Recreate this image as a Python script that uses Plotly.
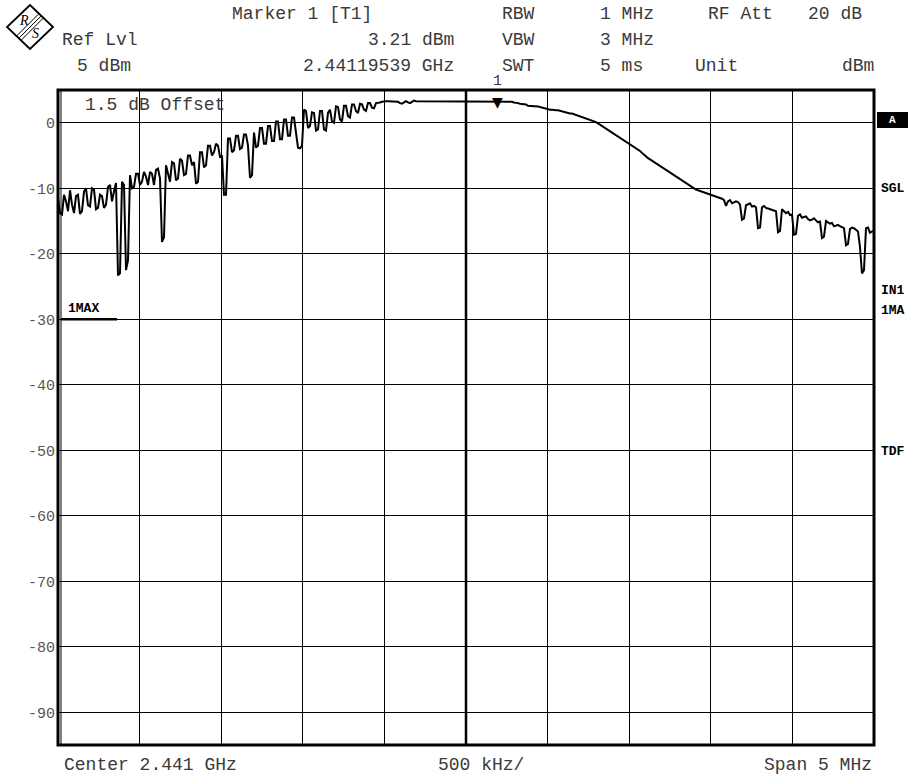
import numpy as np
import plotly.graph_objects as go

# ---------------- data ----------------
center_mhz = 2441.0
span_mhz = 5.0
ref_level = 5
y_bottom = -95
y_ticks = [0, -10, -20, -30, -40, -50, -60, -70, -80, -90]

marker_freq_mhz = 2441.19539
marker_level = 3.21

# trace levels (dBm), read from the sweep at evenly spaced sweep points
level_dbm = [
    -11.5, -13.8, -14.0, -11.0, -12.0, -13.5, -10.3, -12.5, -13.8, -11.2,
    -11.0, -13.9, -13.5, -10.5, -10.0, -12.6, -12.8, -10.0, -10.2, -13.2,
    -13.0, -11.0, -11.2, -13.0, -12.5, -9.8, -9.5, -12.0, -10.5, -9.2,
    -23.3, -23.0, -9.0, -9.5, -22.5, -21.0, -8.0, -10.0, -9.8, -7.8,
    -7.8, -9.5, -9.0, -7.5, -8.2, -9.5, -7.5, -7.8, -9.5, -7.2,
    -7.0, -8.5, -18.2, -17.5, -6.5, -8.0, -9.0, -6.0, -6.2, -8.8,
    -8.5, -5.5, -5.8, -8.0, -7.8, -5.0, -5.0, -6.5, -6.0, -9.3,
    -9.0, -4.5, -4.5, -6.8, -6.5, -3.5, -3.5, -5.0, -4.5, -3.2,
    -3.5, -5.2, -5.0, -11.0, -11.0, -2.4, -2.4, -4.5, -4.2, -2.0,
    -2.0, -4.0, -3.8, -1.8, -1.8, -3.5, -8.4, -8.0, -1.5, -3.8,
    -3.5, -0.8, -0.8, -3.2, -3.2, -0.5, -0.5, -2.8, -2.8, 0.2,
    0.2, -2.5, -2.5, 0.5, 0.5, -2.0, -2.0, 0.8, 0.8, -1.5,
    -3.8, -3.9, -3.5, 2.0, 1.8, -0.8, -0.5, 1.6, 1.5, -1.2,
    -1.0, 1.8, 1.8, -1.0, -1.2, 1.5, 2.0, 0.2, 0.0, 2.5,
    2.4, 0.5, 0.2, 2.6, 2.6, 1.0, 0.8, 2.8, 2.8, 1.8,
    1.5, 2.9, 2.8, 2.0, 1.8, 3.0, 3.0, 2.3, 2.2, 3.0,
    3.0, 3.1, 3.2, 3.3, 3.3, 3.3, 3.3, 3.3, 3.3, 3.2,
    3.2, 3.0, 2.9, 3.1, 3.3, 3.1, 3.0, 3.2, 3.4, 3.3,
    3.3,
    3.3, 3.3, 3.3, 3.3, 3.3, 3.3, 3.3, 3.3, 3.3, 3.3,
    3.3, 3.3, 3.3, 3.3, 3.3, 3.3, 3.3, 3.3, 3.3, 3.3,
    3.3, 3.3, 3.3, 3.3, 3.3, 3.3, 3.3, 3.3, 3.3, 3.3,
    3.3, 3.3, 3.3, 3.3, 3.3, 3.3, 3.3, 3.3, 3.3, 3.3,
    3.2, 3.2, 3.2, 3.2, 3.2, 3.2, 3.2, 3.1, 3.1, 3.0,
    2.9, 2.9, 2.8, 2.8, 2.6, 2.6, 2.5, 2.5, 2.5, 2.5,
    2.4, 2.3, 2.2, 2.2, 2.1, 2.0, 2.0, 1.9, 1.9, 1.9,
    1.8, 1.7, 1.7, 1.6, 1.5, 1.4, 1.4, 1.3, 1.2, 1.1,
    1.0, 0.9, 0.8, 0.7, 0.6, 0.5, 0.4, 0.2, 0.1, -0.1,
    -0.3, -0.5, -0.7, -0.9, -1.1, -1.3, -1.4, -1.6, -1.8, -2.0,
    -2.2, -2.4, -2.6, -2.8, -3.0, -3.2, -3.5, -3.7, -3.9, -4.1,
    -4.3, -4.6, -4.9, -5.2, -5.4, -5.6, -5.8, -6.0, -6.3, -6.5,
    -6.7, -6.9, -7.1, -7.3, -7.5, -7.7, -7.9, -8.1, -8.3, -8.5,
    -8.7, -8.9, -9.1, -9.3, -9.4, -9.6, -9.8, -10.0, -10.2, -10.3,
    -10.4, -10.5, -10.6, -10.7, -10.8, -10.9, -11.0, -11.1, -11.2, -11.3,
    -11.4,
    -11.6, -11.8, -12.7, -12.0, -11.8, -12.3, -12.2, -12.0, -12.1, -12.5,
    -14.8, -14.6, -12.6, -12.4, -12.3, -12.8, -12.7, -12.9, -16.1, -16.0,
    -12.9, -12.7, -13.0, -13.1, -13.2, -13.3, -13.4, -13.5, -16.7, -16.5,
    -13.2, -13.5, -13.8, -13.6, -14.1, -14.0, -17.1, -17.0, -14.2, -14.0,
    -14.5, -14.4, -14.3, -14.7, -14.9, -14.8, -14.6, -14.9, -15.2, -15.1,
    -17.6, -17.4, -15.0, -15.2, -15.4, -15.3, -15.8, -15.7, -15.6, -15.8,
    -16.0, -16.1, -18.7, -18.5, -16.2, -16.0, -16.1, -16.3, -16.6, -19.0,
    -23.0, -22.5, -16.1, -16.0, -16.8, -16.6, -16.5,
]

# sweep grid, evenly spaced across the span
freq_mhz = np.linspace(center_mhz - span_mhz / 2, center_mhz + span_mhz / 2, len(level_dbm))

header_rows = [
    [("Marker 1 [T1]", 230, "left"), ("RBW", 500, "left"), ("1 MHz", 598, "left"),
     ("RF Att", 706, "left"), ("20 dB", 864, "right")],
    [("Ref Lvl", 60, "left"), ("3.21 dBm", 456, "right"), ("VBW", 500, "left"),
     ("3 MHz", 598, "left")],
    [("5 dBm", 75, "left"), ("2.44119539 GHz", 456, "right"), ("SWT", 500, "left"),
     ("5 ms", 598, "left"), ("Unit", 693, "left"), ("dBm", 876, "right")],
]
header_y = [14, 40, 66]

footer_items = [("Center 2.441 GHz", 62, "left"), ("500 kHz/", 436, "left"),
                ("Span 5 MHz", 874, "right")]

side_labels = [("SGL", 188), ("IN1", 290), ("1MA", 310), ("TDF", 452)]

# ---------------- layout geometry ----------------
W, H = 912, 776
L, R, T, B = 58, 874, 90, 745
FONT = "Liberation Mono, Courier New, monospace"
TXT = "#3a3a3a"


def px(xp):
    return (xp - L) / (R - L)


def py(yp):
    return (B - yp) / (B - T)


fig = go.Figure()
fig.add_trace(go.Scatter(
    x=freq_mhz, y=level_dbm, mode="lines",
    line=dict(color="black", width=2.0), hoverinfo="skip", showlegend=False,
))

x0 = center_mhz - span_mhz / 2
x1 = center_mhz + span_mhz / 2

shapes = []
shapes.append(dict(type="rect", xref="paper", yref="paper", x0=0, x1=1, y0=0, y1=1,
                   line=dict(color="black", width=3)))
shapes.append(dict(type="line", xref="paper", yref="paper", x0=px(L + 3), x1=px(L + 3),
                   y0=0, y1=1, line=dict(color="black", width=1)))
shapes.append(dict(type="line", xref="x", yref="paper", x0=center_mhz, x1=center_mhz,
                   y0=0, y1=1, line=dict(color="black", width=2.5)))
shapes.append(dict(type="line", xref="paper", yref="y", x0=px(L + 3), x1=px(117),
                   y0=-30, y1=-30, line=dict(color="black", width=2.5)))
shapes.append(dict(type="rect", xref="paper", yref="paper", x0=px(877), x1=px(908),
                   y0=py(128), y1=py(112), fillcolor="black", line=dict(width=0)))

# R&S logo
cx, cy, hw, hh = 30, 27, 23, 22
shapes.append(dict(type="path", xref="paper", yref="paper",
                   path=f"M {px(cx)} {py(cy-hh)} L {px(cx+hw)} {py(cy)} L {px(cx)} {py(cy+hh)} L {px(cx-hw)} {py(cy)} Z",
                   line=dict(color="black", width=1.8), fillcolor="white"))
for d in (-2.2, 0, 2.2):
    shapes.append(dict(type="line", xref="paper", yref="paper",
                       x0=px(41.5 + d), y0=py(15.5 + d), x1=px(18.5 + d), y1=py(38.5 + d),
                       line=dict(color="black", width=1)))

annotations = []
for row, yy in zip(header_rows, header_y):
    for text, xx, anchor in row:
        annotations.append(dict(text=text, xref="paper", yref="paper", x=px(xx), y=py(yy),
                                xanchor=anchor, yanchor="middle", showarrow=False,
                                font=dict(family=FONT, size=18, color=TXT)))
for text, xx, anchor in footer_items:
    annotations.append(dict(text=text, xref="paper", yref="paper", x=px(xx), y=py(765),
                            xanchor=anchor, yanchor="middle", showarrow=False,
                            font=dict(family=FONT, size=18, color=TXT)))
annotations.append(dict(text="1.5 dB Offset", xref="paper", yref="paper", x=px(83), y=py(105),
                        xanchor="left", yanchor="middle", showarrow=False,
                        font=dict(family=FONT, size=18, color=TXT)))
annotations.append(dict(text="<b>1MAX</b>", xref="paper", yref="paper", x=px(66), y=py(308),
                        xanchor="left", yanchor="middle", showarrow=False,
                        font=dict(family=FONT, size=13, color="black")))
for text, yy in side_labels:
    annotations.append(dict(text=f"<b>{text}</b>", xref="paper", yref="paper", x=px(879), y=py(yy),
                            xanchor="left", yanchor="middle", showarrow=False,
                            font=dict(family=FONT, size=13, color="black")))
annotations.append(dict(text="<b>A</b>", xref="paper", yref="paper", x=px(892.5), y=py(120),
                        xanchor="center", yanchor="middle", showarrow=False,
                        font=dict(family=FONT, size=11, color="white")))
annotations.append(dict(text="▼", x=marker_freq_mhz, y=ref_level, xref="x", yref="y",
                        xanchor="center", yanchor="top", yshift=-2, showarrow=False,
                        font=dict(family="DejaVu Sans", size=14, color="black")))
annotations.append(dict(text="1", x=marker_freq_mhz, y=ref_level, xref="x", yref="y",
                        xanchor="center", yanchor="bottom", yshift=-2, showarrow=False,
                        font=dict(family=FONT, size=15, color=TXT)))
annotations.append(dict(text="<i>R</i>", xref="paper", yref="paper", x=px(24), y=py(20),
                        xanchor="center", yanchor="middle", showarrow=False,
                        font=dict(family="Liberation Serif", size=14, color="black")))
annotations.append(dict(text="<i>S</i>", xref="paper", yref="paper", x=px(35), y=py(34),
                        xanchor="center", yanchor="middle", showarrow=False,
                        font=dict(family="Liberation Serif", size=14, color="black")))

fig.update_layout(
    width=W, height=H,
    margin=dict(l=L, r=W - R, t=T, b=H - B, pad=0),
    paper_bgcolor="white", plot_bgcolor="white",
    shapes=shapes, annotations=annotations, showlegend=False,
    xaxis=dict(range=[x0, x1], tick0=x0, dtick=0.5, showticklabels=False,
               showgrid=True, gridcolor="black", gridwidth=1, zeroline=False,
               ticks="", showline=False, fixedrange=True),
    yaxis=dict(range=[y_bottom, ref_level], tickvals=y_ticks,
               ticktext=[str(v) for v in y_ticks], showgrid=True,
               gridcolor="black", gridwidth=1, zeroline=False, ticks="",
               showline=False, ticklabelstandoff=2,
               tickfont=dict(family=FONT, size=15, color="#555555"), fixedrange=True),
)

fig.write_html("out.html", config={"displayModeBar": False},
               post_script="document.body.style.margin='0px';document.body.style.overflow='hidden';")
